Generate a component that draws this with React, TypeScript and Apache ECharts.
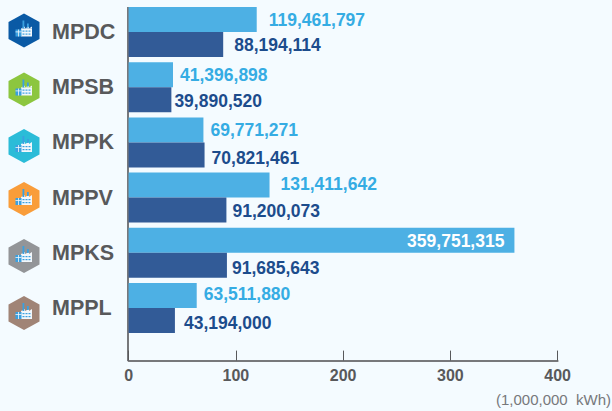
import React, { useEffect, useRef } from "react";
import * as echarts from "echarts";

const categories = ["MPDC", "MPSB", "MPPK", "MPPV", "MPKS", "MPPL"];
const lightValues = [119461797, 41396898, 69771271, 131411642, 359751315, 63511880];
const darkValues = [88194114, 39890520, 70821461, 91200073, 91685643, 43194000];
const xTicks = [0, 100, 200, 300, 400];
const unitLabel = "(1,000,000  kWh)";
const lightGaps = [12, 7, 7, 11, 0, 7];
const darkGaps = [11, 3, 7, 6, 5, 9];
const lightDy = [0, 0, 0, -1, 1, -2];
const darkDy = [0, 1, 3, 1, 3, 2];
const iconColors = ["#0a5aa5", "#8cc63f", "#2bbcd8", "#f99d3a", "#939598", "#a08476"];
const iconCenters = [30.5, 89.5, 146, 199, 256, 313];
const labelShifts = [-2.5, -0.7, 0, -1.6, 0, 1.5];

const FONT = '"Liberation Sans", Arial, sans-serif';
const fmt = (v: number) => v.toLocaleString("en-US");

function icon(color: string, cy: number) {
  const cx = 24;
  const R = 17;
  const hw = 15.5;
  const white = "#f2f7fb";
  const blue = "#3aa0e0";
  return {
    type: "group",
    silent: true,
    x: cx,
    y: cy,
    children: [
      {
        type: "polygon",
        shape: { points: [[0, -R], [hw, -R / 2], [hw, R / 2], [0, R], [-hw, R / 2], [-hw, -R / 2]] },
        style: { fill: color },
      },
      { type: "rect", shape: { x: -3, y: -2, width: 11, height: 8 }, style: { fill: white } },
      { type: "polygon", shape: { points: [[-3, -2], [1, -4], [1, -2], [5, -4], [5, -2], [8, -4], [8, -2]] }, style: { fill: white } },
      { type: "rect", shape: { x: -8.5, y: -1, width: 6, height: 7 }, style: { fill: blue } },
      { type: "rect", shape: { x: -1.5, y: -10, width: 1.8, height: 8 }, style: { fill: blue } },
      { type: "rect", shape: { x: 3, y: -7, width: 1.8, height: 4 }, style: { fill: blue } },
      { type: "rect", shape: { x: -8.5, y: 1, width: 6, height: 0.8 }, style: { fill: white } },
      { type: "rect", shape: { x: -6, y: -1, width: 0.8, height: 7 }, style: { fill: white } },
      { type: "rect", shape: { x: -1.5, y: 0, width: 2, height: 1.2 }, style: { fill: blue } },
      { type: "rect", shape: { x: 1.5, y: 0, width: 2, height: 1.2 }, style: { fill: blue } },
      { type: "rect", shape: { x: 4.5, y: 0, width: 2, height: 1.2 }, style: { fill: blue } },
      { type: "rect", shape: { x: -1.5, y: 3, width: 2, height: 1.2 }, style: { fill: blue } },
      { type: "rect", shape: { x: 1.5, y: 3, width: 2, height: 1.2 }, style: { fill: blue } },
      { type: "rect", shape: { x: 4.5, y: 3, width: 2, height: 1.2 }, style: { fill: blue } },
    ],
  };
}

export default function App() {
  const ref = useRef<HTMLDivElement>(null);
  useEffect(() => {
    document.body.style.margin = "0";
    document.body.style.background = "#f4fbff";
    const chart = echarts.init(ref.current!, null, { renderer: "svg" });
    chart.setOption({
      animation: false,
      backgroundColor: "#f4fbff",
      textStyle: { fontFamily: FONT },
      grid: { left: 128.6, right: 54.4, top: 4.4, height: 331.2, containLabel: false, outerBoundsMode: "none" },
      xAxis: {
        type: "value",
        min: xTicks[0],
        max: xTicks[xTicks.length - 1],
        interval: 100,
        offset: 25,
        axisLine: { show: true, lineStyle: { color: "#77787b", width: 2 } },
        axisTick: { show: true, inside: true, length: 10, lineStyle: { color: "#58595b", width: 1 } },
        splitLine: { show: false },
        axisLabel: { color: "#58595b", fontFamily: FONT, fontWeight: "bold", fontSize: 16, margin: 7 },
      },
      yAxis: {
        type: "category",
        inverse: true,
        data: categories.map((c, i) => ({
          value: c,
          textStyle: {
            align: "left",
            padding: labelShifts[i] < 0 ? [0, 0, -2 * labelShifts[i], 0] : [2 * labelShifts[i], 0, 0, 0],
          },
        })),
        axisLine: { show: false },
        axisTick: { show: false },
        axisLabel: {
          color: "#58595b",
          fontFamily: FONT,
          fontWeight: "bold",
          fontSize: 21.5,
          align: "left",
          margin: 76.6,
        },
      },
      series: [
        {
          type: "bar",
          barWidth: 25,
          barGap: 0,
          itemStyle: { color: "#4db0e4" },
          data: lightValues.map((v, i) => ({
            value: v / 1e6,
            label: {
              show: true,
              position: lightGaps[i] === 0 ? "insideRight" : "right",
              distance: lightGaps[i] === 0 ? 10 : lightGaps[i],
              offset: [0, lightDy[i]],
              color: lightGaps[i] === 0 ? "#ffffff" : "#35ace3",
              fontFamily: FONT,
              fontWeight: "bold",
              fontSize: 17.5,
              formatter: () => fmt(v),
            },
          })),
        },
        {
          type: "bar",
          barWidth: 25,
          barGap: 0,
          itemStyle: { color: "#325b97" },
          data: darkValues.map((v, i) => ({
            value: v / 1e6,
            label: {
              show: true,
              position: "right",
              distance: darkGaps[i],
              offset: [0, darkDy[i]],
              color: "#1c4c8c",
              fontFamily: FONT,
              fontWeight: "bold",
              fontSize: 17.5,
              formatter: () => fmt(v),
            },
          })),
        },
      ],
      graphic: [
        {
          type: "line",
          silent: true,
          shape: { x1: 128, y1: 7, x2: 128, y2: 361 },
          style: { stroke: "#77787b", lineWidth: 2 },
        },
        {
          type: "text",
          silent: true,
          x: 611,
          y: 399,
          style: {
            text: unitLabel,
            align: "right",
            verticalAlign: "middle",
            fill: "#77787b",
            font: `15px ${FONT}`,
          },
        },
        ...iconColors.map((c, i) => icon(c, iconCenters[i])),
      ],
    });
    return () => chart.dispose();
  }, []);
  return <div ref={ref} style={{ width: 612, height: 411 }} />;
}
